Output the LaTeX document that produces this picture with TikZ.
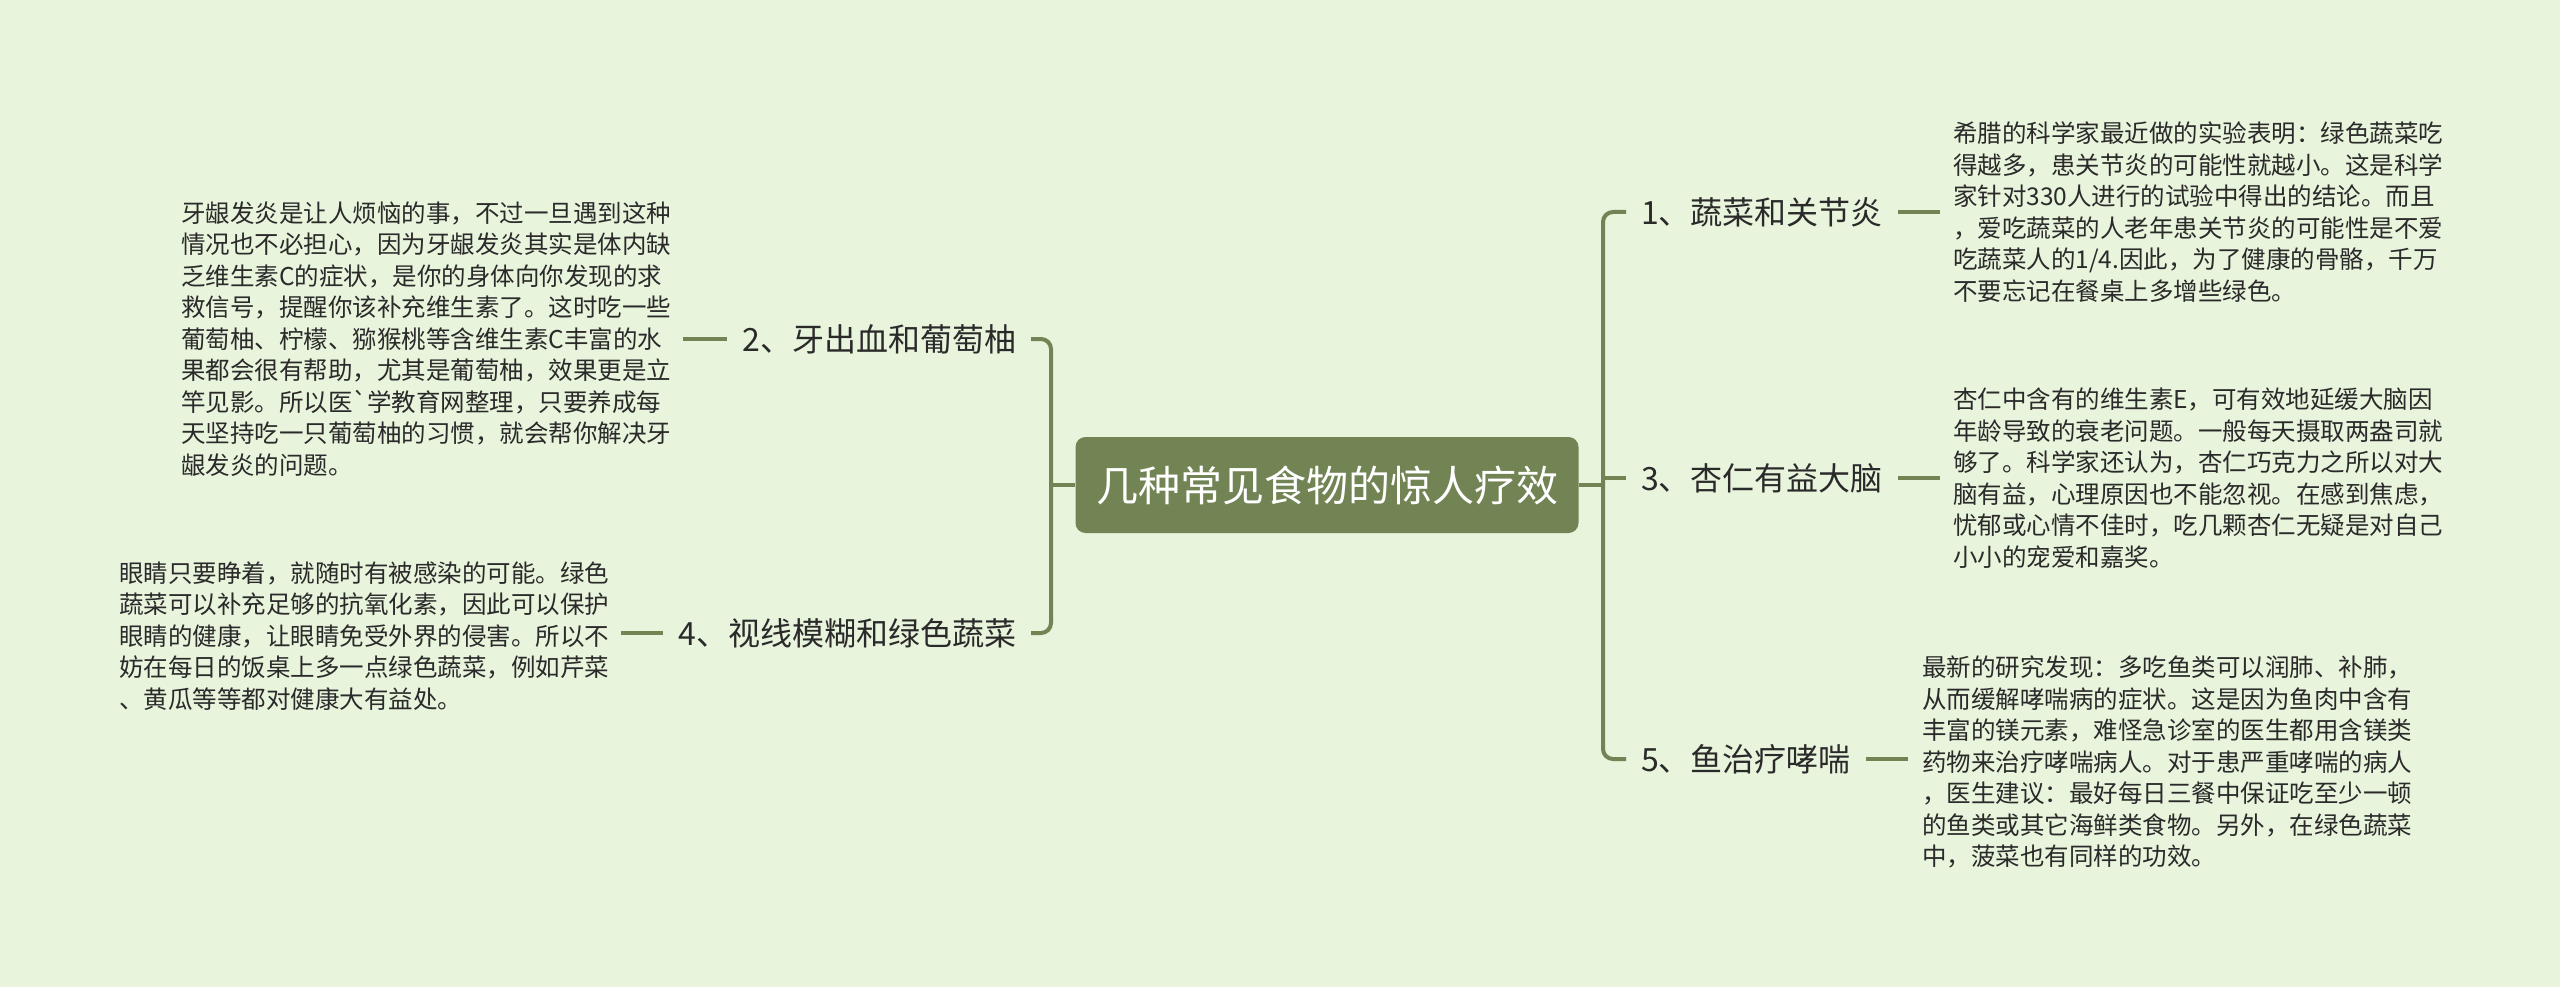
\documentclass[tikz,border=0pt]{standalone}
\usepackage{fontspec}
\setmainfont{Noto Sans CJK SC}
\definecolor{bgc}{HTML}{E8F4DC}
\definecolor{boxc}{HTML}{728354}
\definecolor{linec}{HTML}{728354}
\definecolor{txtc}{HTML}{2A2A2A}
\begin{document}
\begin{tikzpicture}[x=1pt,y=-1pt,
  conn/.style={draw=linec,line width=4pt},
  leaf/.style={inner sep=0pt,align=left,text=txtc,font=\fontsize{24.5pt}{31.5pt}\selectfont},
  branch/.style={inner sep=0pt,outer xsep=15pt,text=txtc,font=\fontsize{32pt}{38pt}\selectfont},
  titlebox/.style={fill=boxc,rounded corners=10pt,minimum width=503pt,minimum height=96pt,inner sep=0pt,text=white,font=\fontsize{42pt}{48pt}\selectfont}]
\fill[bgc] (0,0) rectangle (2560,987);
\useasboundingbox (0,0) rectangle (2560,987);

\node[titlebox] (title) at (1327,485) {几种常见食物的惊人疗效};
\coordinate (rt) at (1603,485);
\coordinate (lt) at (1051,485);

% right branches
\node[branch,anchor=west] (b1) at (1626,212) {1、蔬菜和关节炎};
\node[branch,anchor=west] (b3) at (1626,478) {3、杏仁有益大脑};
\node[branch,anchor=west] (b5) at (1626,759) {5、鱼治疗哮喘};
% left branches
\node[branch,anchor=east] (b2) at (1031,339) {2、牙出血和葡萄柚};
\node[branch,anchor=east] (b4) at (1031,633) {4、视线模糊和绿色蔬菜};

% leaves
\node[leaf,anchor=west,outer xsep=13pt] (l1) at (1940,212) {希腊的科学家最近做的实验表明：绿色蔬菜吃\\
得越多，患关节炎的可能性就越小。这是科学\\
家针对330人进行的试验中得出的结论。而且\\
，爱吃蔬菜的人老年患关节炎的可能性是不爱\\
吃蔬菜人的1/4.因此，为了健康的骨骼，千万\\
不要忘记在餐桌上多增些绿色。};
\node[leaf,anchor=west,outer xsep=13pt] (l3) at (1940,478) {杏仁中含有的维生素E，可有效地延缓大脑因\\
年龄导致的衰老问题。一般每天摄取两盎司就\\
够了。科学家还认为，杏仁巧克力之所以对大\\
脑有益，心理原因也不能忽视。在感到焦虑，\\
忧郁或心情不佳时，吃几颗杏仁无疑是对自己\\
小小的宠爱和嘉奖。};
\node[leaf,anchor=west,outer xsep=14pt] (l5) at (1908,762) {最新的研究发现：多吃鱼类可以润肺、补肺，\\
从而缓解哮喘病的症状。这是因为鱼肉中含有\\
丰富的镁元素，难怪急诊室的医生都用含镁类\\
药物来治疗哮喘病人。对于患严重哮喘的病人\\
，医生建议：最好每日三餐中保证吃至少一顿\\
的鱼类或其它海鲜类食物。另外，在绿色蔬菜\\
中，菠菜也有同样的功效。};
\node[leaf,anchor=west,outer xsep=12pt] (l2) at (169,339) {牙龈发炎是让人烦恼的事，不过一旦遇到这种\\
情况也不必担心，因为牙龈发炎其实是体内缺\\
乏维生素C的症状，是你的身体向你发现的求\\
救信号，提醒你该补充维生素了。这时吃一些\\
葡萄柚、柠檬、猕猴桃等含维生素C丰富的水\\
果都会很有帮助，尤其是葡萄柚，效果更是立\\
竿见影。所以医\textasciigrave 学教育网整理，只要养成每\\
天坚持吃一只葡萄柚的习惯，就会帮你解决牙\\
龈发炎的问题。};
\node[leaf,anchor=west,outer xsep=12pt] (l4) at (107,636) {眼睛只要睁着，就随时有被感染的可能。绿色\\
蔬菜可以补充足够的抗氧化素，因此可以保护\\
眼睛的健康，让眼睛免受外界的侵害。所以不\\
妨在每日的饭桌上多一点绿色蔬菜，例如芹菜\\
、黄瓜等等都对健康大有益处。};

% connectors
\draw[conn] (title.east) -- (rt);
\draw[conn,rounded corners=10pt] (b1.west) -| (rt) |- (b5.west);
\draw[conn] (rt |- b3.west) -- (b3.west);
\draw[conn] (title.west) -- (lt);
\draw[conn,rounded corners=10pt] (b2.east) -| (lt) |- (b4.east);

\draw[conn] (b1.east) -- (l1.west);
\draw[conn] (b3.east) -- (l3.west);
\draw[conn] (b5.east) -- (b5.east -| l5.west);
\draw[conn] (b2.west) -- (b2.west -| l2.east);
\draw[conn] (b4.west) -- (b4.west -| l4.east);
\end{tikzpicture}
\end{document}
